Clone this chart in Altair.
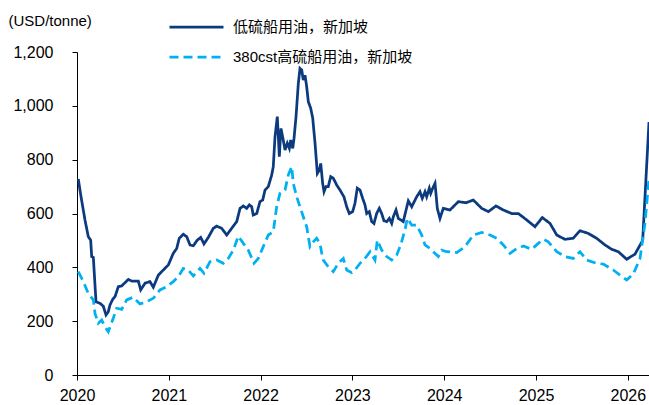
import altair as alt
import pandas as pd

LSFO = "低硫船用油，新加坡"
HSFO = "380cst高硫船用油，新加坡"

lsfo_t = [2020.014, 2020.044, 2020.087, 2020.123, 2020.149, 2020.160, 2020.178, 2020.207, 2020.251, 2020.286,
          2020.316, 2020.341, 2020.359, 2020.389, 2020.414, 2020.450, 2020.487, 2020.559, 2020.596, 2020.668,
          2020.694, 2020.741, 2020.795, 2020.831, 2020.886, 2020.940, 2020.995, 2021.049, 2021.086, 2021.114,
          2021.158, 2021.195, 2021.231, 2021.267, 2021.310, 2021.348, 2021.383, 2021.430, 2021.485, 2021.522,
          2021.576, 2021.631, 2021.685, 2021.740,
          2021.776, 2021.812, 2021.849, 2021.877, 2021.903, 2021.920, 2021.958, 2021.993, 2022.023, 2022.048,
          2022.084, 2022.121, 2022.138, 2022.157, 2022.182, 2022.204, 2022.222, 2022.247, 2022.266, 2022.291,
          2022.313, 2022.328, 2022.350, 2022.364, 2022.386, 2022.411, 2022.429, 2022.448, 2022.465, 2022.484,
          2022.502, 2022.520, 2022.546, 2022.568, 2022.593, 2022.618, 2022.640, 2022.655, 2022.676, 2022.691,
          2022.712, 2022.737, 2022.764, 2022.792, 2022.829, 2022.865, 2022.908, 2022.938, 2022.966, 2023.003,
          2023.028, 2023.053, 2023.083, 2023.112, 2023.137, 2023.156, 2023.184, 2023.210, 2023.235, 2023.264,
          2023.293, 2023.319, 2023.344, 2023.374, 2023.402, 2023.428, 2023.446, 2023.475, 2023.500,
          2023.554, 2023.609, 2023.646, 2023.700, 2023.736, 2023.761, 2023.791, 2023.809, 2023.838, 2023.853,
          2023.875, 2023.900, 2023.925, 2023.954, 2023.990, 2024.063, 2024.154, 2024.237, 2024.317, 2024.409,
          2024.481, 2024.564, 2024.644, 2024.735, 2024.807, 2024.899, 2024.989, 2025.069, 2025.153, 2025.226,
          2025.316, 2025.406, 2025.479, 2025.570, 2025.661, 2025.752, 2025.825, 2025.897, 2025.988, 2026.078,
          2026.162, 2026.231]

lsfo_v = [728, 662, 576, 514, 501, 440, 437, 272, 266, 256,
          223, 235, 260, 281, 291, 328, 331, 355, 349, 349,
          316, 341, 347, 326, 371, 390, 409, 452, 470, 508,
          523, 514, 483, 480, 501, 511, 487, 511, 545, 553,
          545, 520, 545, 570,
          619, 628, 619, 632, 625, 594, 600, 644, 650, 687,
          700, 743, 774, 885, 960, 811, 916, 873, 836, 861,
          842, 873, 842, 879, 960, 1083, 1139, 1133, 1096, 1114,
          1071, 1015, 991, 954, 861, 749, 761, 786, 712, 681,
          700, 700, 737, 731, 706, 687, 662, 625, 600, 607,
          638, 694, 687, 656, 632, 600, 607, 570, 563, 600,
          619, 600, 573, 570, 582, 563, 588, 613, 582,
          570, 647, 625, 662, 681, 656, 681, 662, 694, 675,
          694, 712, 619, 582, 619, 613, 644, 640, 650, 619,
          607, 628, 613, 600, 600, 576, 551, 585, 563, 520,
          504, 508, 536, 526, 508, 483, 467, 458, 430, 449,
          500, 940]

hsfo_t = [2020.014, 2020.069, 2020.123, 2020.178, 2020.196, 2020.232, 2020.269, 2020.305, 2020.341, 2020.395,
          2020.432, 2020.487, 2020.541, 2020.613, 2020.686, 2020.759, 2020.831, 2020.904, 2020.977, 2021.049,
          2021.103, 2021.158, 2021.212, 2021.267, 2021.340, 2021.383, 2021.449, 2021.522, 2021.594, 2021.648,
          2021.703, 2021.757,
          2021.812, 2021.866, 2021.928, 2021.975, 2022.029, 2022.084, 2022.138, 2022.175, 2022.211, 2022.266,
          2022.302, 2022.339, 2022.356, 2022.393, 2022.429, 2022.465, 2022.502, 2022.538, 2022.574, 2022.611,
          2022.647, 2022.666, 2022.683, 2022.737, 2022.792, 2022.846, 2022.901, 2022.938, 2022.992, 2023.028,
          2023.083, 2023.137, 2023.192, 2023.246, 2023.271, 2023.319, 2023.374, 2023.428, 2023.483,
          2023.526, 2023.573, 2023.598, 2023.646, 2023.700, 2023.755, 2023.791, 2023.845, 2023.881, 2023.936,
          2023.973, 2024.027, 2024.136, 2024.227, 2024.317, 2024.409, 2024.499, 2024.572, 2024.644, 2024.717,
          2024.790, 2024.862, 2024.953, 2025.025, 2025.080, 2025.134, 2025.226, 2025.316, 2025.406, 2025.479,
          2025.552, 2025.661, 2025.733, 2025.842, 2025.915, 2025.988, 2026.060, 2026.133, 2026.187, 2026.231]

hsfo_v = [384, 347, 303, 279, 229, 192, 204, 179, 161, 211,
          248, 244, 279, 289, 264, 272, 285, 316, 328, 347,
          365, 396, 390, 368, 396, 378, 421, 427, 415, 433,
          464, 516,
          489, 464, 415, 433, 477, 520, 532, 625, 675, 687,
          743, 774, 712, 662, 625, 588, 551, 477, 495, 508,
          489, 452, 427, 402, 384, 415, 433, 390, 380, 390,
          415, 433, 458, 427, 501, 464, 440, 427, 446,
          483, 539, 582, 557, 557, 520, 483, 470, 458, 440,
          464, 458, 455, 477, 520, 530, 520, 508, 483, 452,
          470, 479, 467, 489, 504, 495, 458, 440, 433, 458,
          427, 415, 412, 390, 371, 353, 375, 433, 563, 730]

x_ticks = [2020, 2021, 2022, 2023, 2024, 2025, 2026]
y_ticks = [0, 200, 400, 600, 800, 1000, 1200]

NAVY = "#0b3b7e"
LIGHT = "#00b0f0"

df = pd.concat([
    pd.DataFrame({"t": lsfo_t, "v": lsfo_v, "s": LSFO}),
    pd.DataFrame({"t": hsfo_t, "v": hsfo_v, "s": HSFO}),
])

FONT = "Liberation Sans"
CJK = "Liberation Sans, Noto Sans CJK SC"

legend = alt.Legend(
    orient="none", legendX=91, legendY=-40, title=None, direction="vertical",
    symbolType="stroke", symbolSize=2916, symbolStrokeWidth=2.75, clipHeight=30,
    rowPadding=0, padding=0, labelFont=CJK, labelFontSize=15, labelColor="#000000",
    labelOffset=8, labelLimit=400,
)

chart = alt.Chart(df).mark_line(strokeWidth=2.75).encode(
    x=alt.X("t:Q",
            scale=alt.Scale(domain=[2020, 2026.231], nice=False, zero=False),
            axis=alt.Axis(values=x_ticks, format="d", title=None, grid=False,
                          domainColor="#000000", tickColor="#000000", tickSize=5,
                          labelFont=FONT, labelFontSize=16, labelColor="#000000",
                          labelPadding=7, labelFlush=False)),
    y=alt.Y("v:Q",
            scale=alt.Scale(domain=[0, 1200], nice=False),
            axis=alt.Axis(values=y_ticks, format=",.0f", grid=False,
                          domainColor="#000000", tickColor="#000000", tickSize=5,
                          labelFont=FONT, labelFontSize=16, labelColor="#000000",
                          labelPadding=19,
                          title="(USD/tonne)", titleAngle=0, titleAlign="left",
                          titleBaseline="alphabetic", titleX=-69, titleY=-27,
                          titleFont=FONT, titleFontSize=15, titleFontWeight="normal",
                          titleColor="#000000")),
    color=alt.Color("s:N", sort=[LSFO, HSFO],
                    scale=alt.Scale(domain=[LSFO, HSFO], range=[NAVY, LIGHT]),
                    legend=legend),
    strokeDash=alt.StrokeDash("s:N", sort=[LSFO, HSFO],
                              scale=alt.Scale(domain=[LSFO, HSFO], range=[[1, 0], [9, 5]]),
                              legend=legend),
    order=alt.Order("t:Q"),
).properties(
    width=572, height=323,
    padding={"left": 77, "top": 52, "right": 0, "bottom": 30},
    autosize="none",
).configure_view(stroke=None)

chart.save("out.html", embed_options={"renderer": "svg", "actions": False})
